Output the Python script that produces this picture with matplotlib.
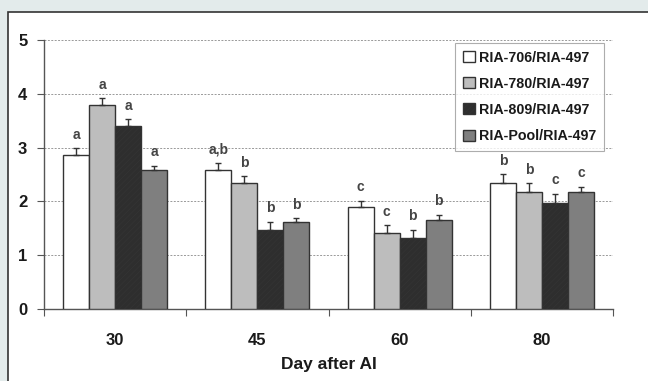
import matplotlib.pyplot as plt
import matplotlib.patches as mpatches
import numpy as np

plt.rcParams['font.family'] = ['Liberation Sans', 'DejaVu Sans']
plt.rcParams['hatch.linewidth'] = 0.6
plt.rcParams['hatch.color'] = '#777777'

# data
days = ["30", "45", "60", "80"]
series = ["RIA-706/RIA-497", "RIA-780/RIA-497", "RIA-809/RIA-497", "RIA-Pool/RIA-497"]
values = [
    [2.86, 2.58, 1.90, 2.34],
    [3.79, 2.34, 1.41, 2.17],
    [3.40, 1.47, 1.32, 1.97],
    [2.58, 1.62, 1.65, 2.17],
]
errors = [
    [0.13, 0.13, 0.11, 0.17],
    [0.13, 0.13, 0.15, 0.17],
    [0.13, 0.15, 0.15, 0.17],
    [0.08, 0.07, 0.10, 0.10],
]
letters = [
    ["a", "a,b", "c", "b"],
    ["a", "b", "c", "b"],
    ["a", "b", "b", "c"],
    ["a", "b", "b", "c"],
]

colors = ["white", "#bdbdbd", "#2e2e2e", "#7f7f7f"]
hatches = [None, None, "//////", None]

fig = plt.figure(figsize=(6.48, 3.81), dpi=100)
fig.patch.set_facecolor('#e3ebeb')
# white panel (cropped at right and bottom)
panel = mpatches.Rectangle((8 / 648, -0.05), 1.0, 1 - 12 / 381 + 0.05,
                           transform=fig.transFigure, facecolor='white',
                           edgecolor='#333333', linewidth=1.2, zorder=-10)
fig.patches.append(panel)

ax = fig.add_axes([44 / 648, 1 - 309 / 381, (613 - 44) / 648, (309 - 40) / 381])
ax.set_facecolor('none')

x = np.arange(len(days)) + 0.5
w = 0.183
for i in range(len(series)):
    xs = x + (i - 1.5) * w
    ax.bar(xs, values[i], width=w, color=colors[i], edgecolor='#333333',
           linewidth=1.0, hatch=hatches[i], label=series[i], zorder=3)
    ax.errorbar(xs, values[i], yerr=[np.zeros(len(days)), errors[i]], fmt='none',
                ecolor='#333333', elinewidth=1.0, capsize=2.5, capthick=1.0, zorder=4)
    for xi, v, e, t in zip(xs, values[i], errors[i], letters[i]):
        ax.text(xi, v + e + 0.12, t, ha='center', va='bottom', fontsize=10,
                fontweight='bold', color='#444444', zorder=5)

ax.set_xlim(0, 4)
ax.set_ylim(0, 5)
ax.set_yticks([0, 1, 2, 3, 4, 5])
ax.yaxis.grid(True, linestyle=(0, (2, 1.5)), color='#999999', linewidth=0.7, zorder=0)
ax.set_xticks([0, 1, 2, 3, 4])
ax.set_xticklabels([])
ax.set_xticks(x, minor=True)
ax.set_xticklabels(days, minor=True)
ax.tick_params(axis='x', which='minor', length=0, pad=17, labelsize=12)
ax.tick_params(axis='x', which='major', length=5, direction='out', color='#555555')
ax.tick_params(axis='y', length=5, direction='out', color='#555555', labelsize=12, pad=7)
for lab in ax.get_xticklabels(minor=True) + ax.get_yticklabels():
    lab.set_fontweight('bold')
    lab.set_color('#1a1a1a')
for s in ['top', 'right']:
    ax.spines[s].set_visible(False)
for s in ['left', 'bottom']:
    ax.spines[s].set_color('#555555')
    ax.spines[s].set_linewidth(1.0)

ax.set_xlabel("Day after AI", fontsize=12.5, fontweight='bold', labelpad=7,
              color='#1a1a1a')

leg = ax.legend(loc='upper right', bbox_to_anchor=((604 - 44) / 569, 0.99),
                prop={'size': 10.3, 'weight': 'bold'}, frameon=True, fancybox=False,
                handlelength=0.8, handleheight=0.8, handletextpad=0.3,
                labelspacing=0.85, borderpad=0.55, borderaxespad=0)
leg.get_frame().set_edgecolor('#999999')
leg.get_frame().set_linewidth(0.8)
for t in leg.get_texts():
    t.set_color('#1a1a1a')

fig.savefig('out.png', dpi=100, facecolor=fig.get_facecolor())
